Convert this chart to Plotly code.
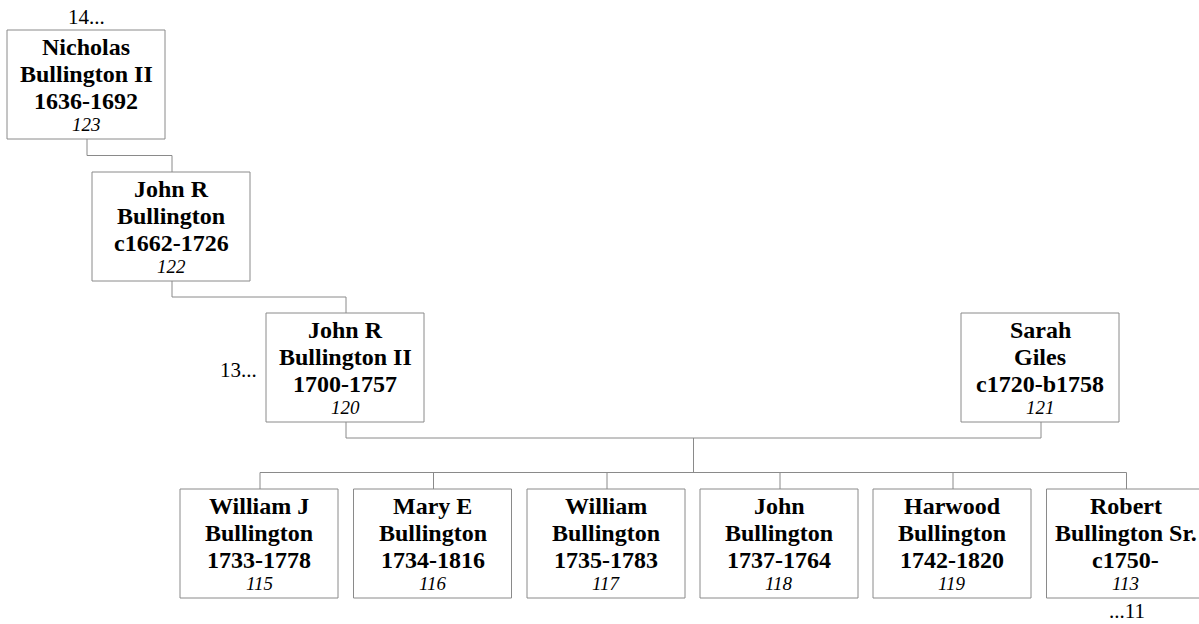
import plotly.graph_objects as go

# ---- data ----
first_line = ["Nicholas", "John R", "John R", "Sarah",
              "William J", "Mary E", "William", "John", "Harwood", "Robert"]
second_line = ["Bullington II", "Bullington", "Bullington II", "Giles",
               "Bullington", "Bullington", "Bullington", "Bullington", "Bullington", "Bullington Sr."]
years = ["1636-1692", "c1662-1726", "1700-1757", "c1720-b1758",
         "1733-1778", "1734-1816", "1735-1783", "1737-1764", "1742-1820", "c1750-"]
ids = ["123", "122", "120", "121", "115", "116", "117", "118", "119", "113"]
ancestors = [(0, 1), (1, 2)]          # parent -> child chain
couple = (2, 3)
children = [4, 5, 6, 7, 8, 9]
more_labels = [(0, "14...", "top"), (2, "13...", "left"), (9, "...11", "bottom")]

# ---- layout (pixel space) ----
W, H = 1199, 624
BW, BH = 158, 109
box_left = [7, 92, 266, 961, 180, 353.5, 527, 700, 873, 1046.5]
box_top = [30, 172, 313, 313, 489, 489, 489, 489, 489, 489]
GRAY = "#8a8a8a"
FONT = "Liberation Serif"

cx = [l + BW / 2 + 1 for l in box_left]
bottom = [t + BH for t in box_top]

fig = go.Figure()

# connectors
xs, ys = [], []
for p, c in ancestors:
    mid = (bottom[p] + box_top[c]) / 2
    xs += [cx[p], cx[p], cx[c], cx[c], None]
    ys += [bottom[p], mid, mid, box_top[c], None]
a, b = couple
cy = bottom[a] + 16
xs += [cx[a], cx[a], cx[b], cx[b], None]
ys += [bottom[a], cy, cy, bottom[b], None]
bar = box_top[children[0]] - 16.5
mx = (cx[a] + cx[b]) / 2
xs += [mx, mx, None]
ys += [cy, bar, None]
xs += [cx[children[0]], cx[children[-1]], None]
ys += [bar, bar, None]
for k in children:
    xs += [cx[k], cx[k], None]
    ys += [bar, box_top[k], None]
fig.add_trace(go.Scatter(x=xs, y=ys, mode="lines", line=dict(color=GRAY, width=1),
                         hoverinfo="skip", showlegend=False))

# boxes
for i in range(len(ids)):
    fig.add_shape(type="rect", xref="x", yref="y",
                  x0=box_left[i], x1=box_left[i] + BW, y0=box_top[i], y1=bottom[i],
                  line=dict(color=GRAY, width=1), fillcolor="white", layer="above")

# text
for i in range(len(ids)):
    x = box_left[i] + BW / 2
    t = box_top[i]
    for txt, dy in [(first_line[i], 17), (second_line[i], 44), (years[i], 70.5)]:
        fig.add_annotation(x=x, y=t + dy, xref="x", yref="y", text="<b>" + txt + "</b>",
                           showarrow=False, xanchor="center", yanchor="middle",
                           font=dict(family=FONT, size=24, color="black"))
    fig.add_annotation(x=x, y=t + 94, xref="x", yref="y", text="<i>" + ids[i] + "</i>",
                       showarrow=False, xanchor="center", yanchor="middle",
                       font=dict(family=FONT, size=19, color="black"))

for i, txt, pos in more_labels:
    if pos == "top":
        x, y, xa = box_left[i] + BW / 2, box_top[i] - 13, "center"
    elif pos == "left":
        x, y, xa = box_left[i] - 7, box_top[i] + BH / 2 + 2, "right"
    else:
        x, y, xa = box_left[i] + BW / 2 + 1, bottom[i] + 13, "center"
    fig.add_annotation(x=x, y=y, xref="x", yref="y", text=txt, showarrow=False,
                       xanchor=xa, yanchor="middle",
                       font=dict(family=FONT, size=21, color="black"))

fig.update_xaxes(range=[0, W], visible=False, fixedrange=True)
fig.update_yaxes(range=[H, 0], visible=False, fixedrange=True)
fig.update_layout(width=W, height=H, margin=dict(l=0, r=0, t=0, b=0),
                  plot_bgcolor="white", paper_bgcolor="white")

fig.write_html("out.html", config={"displayModeBar": False},
               post_script="document.body.style.margin='0';document.body.style.overflow='hidden';")
